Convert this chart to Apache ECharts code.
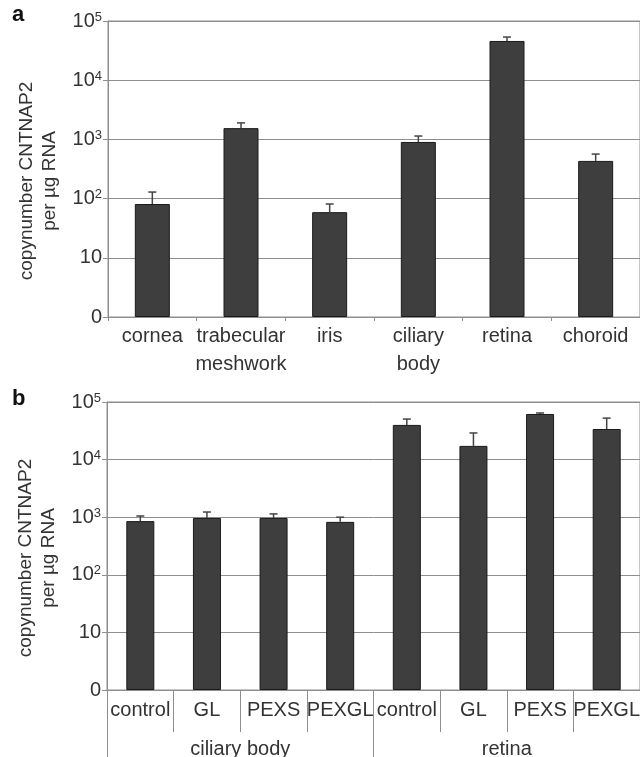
<!DOCTYPE html>
<html>
<head>
<meta charset="utf-8">
<script src="https://cdn.jsdelivr.net/npm/echarts@6/dist/echarts.min.js"></script>
<style>
  html, body { margin: 0; padding: 0; background: #fff; }
  #chart { width: 640px; height: 757px; }
</style>
</head>
<body>
<div id="chart"></div>
<script>
// panel a: tissues
const tissues = ['cornea', 'trabecular\nmeshwork', 'iris', 'ciliary\nbody', 'retina', 'choroid']
const tissueMean = [81, 1550, 59, 905, 46000, 433]
const tissueErrTop = [129, 1900, 81, 1140, 53600, 565]

// panel b: ciliary body / retina by diagnosis
const groups = ['control', 'GL', 'PEXS', 'PEXGL', 'control', 'GL', 'PEXS', 'PEXGL']
const tissueGroups = ['ciliary body', 'retina']
const groupMean = [855, 970, 970, 830, 40000, 17300, 62000, 34000]
const groupErrTop = [1050, 1230, 1140, 1000, 50600, 29000, 64500, 52500]

const yTicks = { 1: '0', 10: '10', 100: '{b|10}{s|2}', 1000: '{b|10}{s|3}', 10000: '{b|10}{s|4}', 100000: '{b|10}{s|5}' }

const font = '"Liberation Sans", Arial, sans-serif'
const gray = '#8e8e8e'
const barFill = '#3e3e3e'

function errorItem(params, api) {
  const x = api.value(0)
  const p0 = api.coord([x, api.value(1)])
  const p1 = api.coord([x, api.value(2)])
  const s = { stroke: '#444', lineWidth: 1.5 }
  return {
    type: 'group',
    children: [
      { type: 'line', shape: { x1: p0[0], y1: p0[1], x2: p1[0], y2: p1[1] }, style: s },
      { type: 'line', shape: { x1: p1[0] - 4, y1: p1[1], x2: p1[0] + 4, y2: p1[1] }, style: s }
    ]
  }
}

function yAxisFor(gridIndex) {
  return {
    type: 'log',
    logBase: 10,
    gridIndex,
    min: 1,
    max: 100000,
    name: 'copynumber CNTNAP2\nper µg RNA',
    nameLocation: 'middle',
    nameGap: 44,
    nameTextStyle: { fontFamily: font, fontSize: 19, color: '#333', lineHeight: 23, padding: [0, 24, 0, 0] },
    axisLine: { show: true, lineStyle: { color: gray } },
    axisTick: { show: true, length: 5, lineStyle: { color: gray } },
    minorTick: { show: false },
    splitLine: { show: true, lineStyle: { color: gray, width: 1 } },
    axisLabel: {
      margin: 6,
      fontFamily: font,
      fontSize: 20,
      color: '#333',
      formatter: v => yTicks[Math.round(v)] || '',
      rich: {
        b: { fontFamily: font, fontSize: 20, color: '#333' },
        s: { fontFamily: font, fontSize: 13, color: '#333', verticalAlign: 'top', padding: [0, 0, 8, 0] }
      }
    }
  }
}

const chart = echarts.init(document.getElementById('chart'), null, { renderer: 'canvas' })

chart.setOption({
  animation: false,
  backgroundColor: '#fff',
  grid: [
    { left: 108, top: 21, width: 532, height: 296, outerBoundsMode: 'none', containLabel: false, show: true, borderColor: gray, borderWidth: 1 },
    { left: 107, top: 402, width: 533, height: 288, outerBoundsMode: 'none', containLabel: false, show: true, borderColor: gray, borderWidth: 1 }
  ],
  graphic: [
    { type: 'text', left: 12, top: 4, style: { text: 'a', fontFamily: font, fontSize: 22, fontWeight: 'bold', fill: '#111' } },
    { type: 'text', left: 12, top: 388, style: { text: 'b', fontFamily: font, fontSize: 22, fontWeight: 'bold', fill: '#111' } }
  ],
  xAxis: [
    {
      type: 'category',
      gridIndex: 0,
      data: tissues,
      axisLine: { lineStyle: { color: gray } },
      axisTick: { show: true, interval: 0, length: 4, lineStyle: { color: gray } },
      axisLabel: { interval: 0, margin: 5, fontFamily: font, fontSize: 20, color: '#333', lineHeight: 28 }
    },
    {
      type: 'category',
      gridIndex: 1,
      data: groups,
      axisLine: { lineStyle: { color: gray } },
      axisTick: { show: true, interval: 0, length: 42, lineStyle: { color: gray } },
      axisLabel: { interval: 0, margin: 10, fontFamily: font, fontSize: 20, color: '#333' }
    },
    {
      type: 'category',
      gridIndex: 1,
      position: 'bottom',
      offset: 0,
      data: tissueGroups,
      axisLine: { show: false },
      axisTick: { show: true, interval: 0, length: 70, lineStyle: { color: gray } },
      axisLabel: { interval: 0, margin: 49, fontFamily: font, fontSize: 20, color: '#333' }
    }
  ],
  yAxis: [yAxisFor(0), yAxisFor(1)],
  series: [
    {
      type: 'bar',
      xAxisIndex: 0,
      yAxisIndex: 0,
      data: tissueMean,
      barWidth: 35,
      itemStyle: { color: barFill, borderColor: '#1a1a1a', borderWidth: 1 }
    },
    {
      type: 'custom',
      xAxisIndex: 0,
      yAxisIndex: 0,
      renderItem: errorItem,
      encode: { x: 0, y: [1, 2] },
      data: tissueMean.map((v, i) => [i, v, tissueErrTop[i]]),
      z: 3
    },
    {
      type: 'bar',
      xAxisIndex: 1,
      yAxisIndex: 1,
      data: groupMean,
      barWidth: 28,
      itemStyle: { color: barFill, borderColor: '#1a1a1a', borderWidth: 1 }
    },
    {
      type: 'custom',
      xAxisIndex: 1,
      yAxisIndex: 1,
      renderItem: errorItem,
      encode: { x: 0, y: [1, 2] },
      data: groupMean.map((v, i) => [i, v, groupErrTop[i]]),
      z: 3
    }
  ]
})
</script>
</body>
</html>
